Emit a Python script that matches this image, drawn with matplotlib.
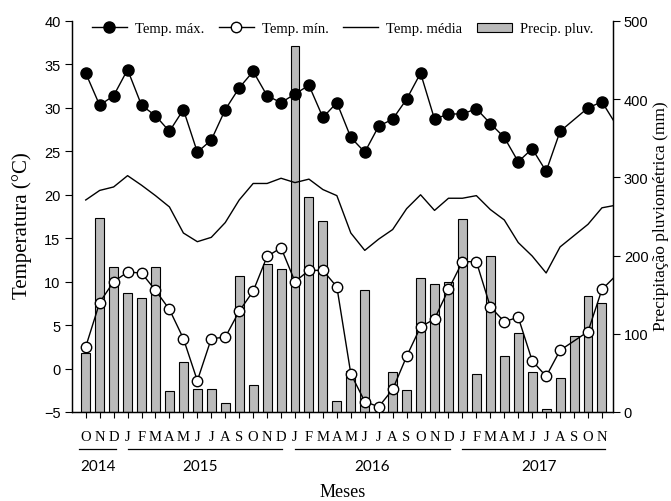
import numpy as np
import matplotlib
matplotlib.use("Agg")
import matplotlib.pyplot as plt
from matplotlib.lines import Line2D
from matplotlib.patches import Patch
from matplotlib.transforms import blended_transform_factory

nan = np.nan

# Monthly series, Oct 2014 - Dec 2017 (the last month is cut by the axis edge)
months = ["O", "N", "D"] + list("JFMAMJJASOND") * 2 + list("JFMAMJJASON")

temp_max = [34.0, 30.3, 31.4, 34.4, 30.3, 29.1, 27.3, 29.8, 24.9, 26.3, 29.8, 32.3,
            34.2, 31.4, 30.6, 31.6, 32.6, 28.9, 30.6, 26.6, 24.9, 27.9, 28.7, 31.0,
            34.0, 28.7, 29.3, 29.3, 29.9, 28.2, 26.6, 23.8, 25.3, 22.7, 27.3, nan,
            30.0, 30.7, 28.1]
temp_min = [2.5, 7.6, 10.0, 11.1, 11.0, 9.0, 6.8, 3.45, -1.4, 3.45, 3.6, 6.6,
            8.9, 12.9, 13.9, 10.0, 11.3, 11.3, 9.4, -0.6, -3.8, -4.4, -2.4, 1.4,
            4.8, 5.7, 9.1, 12.3, 12.3, 7.1, 5.4, 5.9, 0.9, -0.9, 2.1, nan,
            4.25, 9.1, 10.7]
temp_med = [19.4, 20.5, 20.9, 22.2, 21.1, 19.9, 18.6, 15.6, 14.6, 15.1, 16.8, 19.4,
            21.3, 21.3, 21.9, 21.4, 21.8, 20.6, 19.9, 15.6, 13.6, 14.9, 16.0, 18.4,
            20.0, 18.2, 19.6, 19.6, 19.9, 18.3, 17.1, 14.5, 12.95, 11.0, 14.0, 15.3,
            16.6, 18.5, 18.8]
precip = [75, 248, 186, 152, 146, 186, 27, 64, 29, 30, 12, 174,
          35, 189, 183, 468, 275, 244, 14, 52, 156, 0, 51, 28.5,
          171, 164, 166, 247, 49, 199, 71, 101, 51, 3.4, 43, 97.5,
          148, 140]

years = ["2014", "2015", "2016", "2017"]
year_spans = [(-0.5, 2.2), (3.0, 14.1), (15.0, 26.1), (27.0, 37.2)]
year_centers = [0.88, 8.2, 20.5, 32.5]

serif = ["Liberation Serif", "DejaVu Serif"]
sans = ["Liberation Sans", "DejaVu Sans"]
n_months = len(months)

fig = plt.figure(figsize=(6.71, 5.02), dpi=100)
ax = fig.add_axes([0.1078, 0.1773, 0.9131 - 0.1078, 0.9562 - 0.1773])
ax2 = ax.twinx()
ax.set_zorder(ax2.get_zorder() + 1)
ax.patch.set_visible(False)

# Rainfall bars on the right-hand axis
xb = np.arange(len(precip))
ax2.bar(xb, precip, width=0.64, color="#bababa", edgecolor="black", linewidth=0.8)
ax2.set_ylim(0, 500)
ax2.set_yticks(range(0, 501, 100))


def series(vals):
    v = np.asarray(vals, dtype=float)
    x = np.arange(len(v))
    m = ~np.isnan(v)
    x, v = x[m], v[m]
    # markers only for the months shown on the axis
    shown = [i for i, xi in enumerate(x) if xi < n_months]
    return x, v, shown


xm, ym, km = series(temp_max)
ax.plot(xm, ym, color="black", lw=1.0, marker="o", ms=8, mfc="black", mec="black",
        markevery=km, zorder=4)
xn, yn, kn = series(temp_min)
ax.plot(xn, yn, color="black", lw=1.0, marker="o", ms=7.5, mfc="white", mec="black",
        mew=1.0, markevery=kn, zorder=4)
xd, yd, _ = series(temp_med)
ax.plot(xd, yd, color="black", lw=1.0, zorder=3)

ax.set_xlim(-0.96, 37.77)
ax.set_ylim(-5, 40)
ax.set_yticks(range(-5, 41, 5))
ax.set_xticks(range(n_months))
ax.set_xticklabels(months, fontfamily=serif, fontsize=10.5)
ax.tick_params(axis="x", direction="out", length=4, width=0.8, pad=9)
ax.tick_params(axis="y", direction="out", length=5, width=0.8, labelsize=10.5)
ax2.tick_params(axis="y", direction="out", length=5, width=0.8, labelsize=10.5, pad=3)
for lab in ax.get_yticklabels() + ax2.get_yticklabels():
    lab.set_fontfamily(sans)

for a in (ax, ax2):
    a.spines["top"].set_visible(False)
    for s in ("left", "right", "bottom"):
        a.spines[s].set_linewidth(0.9)

fig.text(0.033, 0.55, "Temperatura (°C)", rotation=90,
         ha="center", va="center", fontfamily=serif, fontsize=15)
fig.text(0.985, 0.57, "Precipitação pluviométrica (mm)", rotation=90,
         ha="center", va="center", fontfamily=serif, fontsize=12.5)

# Year brackets under the month letters
tr = blended_transform_factory(ax.transData, fig.transFigure)
for name, (x0, x1), xc in zip(years, year_spans, year_centers):
    fig.add_artist(Line2D([x0, x1], [0.1036, 0.1036], transform=tr, color="black", lw=0.9))
    fig.text(xc, 0.0697, name, transform=tr, ha="center", va="center",
             fontfamily=["Lato", "DejaVu Sans"], fontsize=11)
fig.text(0.5 + 0.5 * (0.1078 + 0.9131 - 1), 0.0199, "Meses", ha="center", va="center",
         fontfamily=serif, fontsize=13)

handles = [
    Line2D([], [], color="black", lw=1.0, marker="o", ms=8, mfc="black"),
    Line2D([], [], color="black", lw=1.0, marker="o", ms=7.5, mfc="white", mec="black"),
    Line2D([], [], color="black", lw=1.0),
    Patch(facecolor="#bababa", edgecolor="black", linewidth=0.8),
]
labels = ["Temp. máx.", "Temp. mín.", "Temp. média", "Precip. pluv."]
ax.legend(handles, labels, loc="upper center", bbox_to_anchor=(0.5, 1.03), ncol=4,
          frameon=False, prop={"family": serif, "size": 10.5}, handlelength=2.4,
          handleheight=0.6, columnspacing=1.0, handletextpad=0.55)

fig.savefig("out.png", dpi=100)
